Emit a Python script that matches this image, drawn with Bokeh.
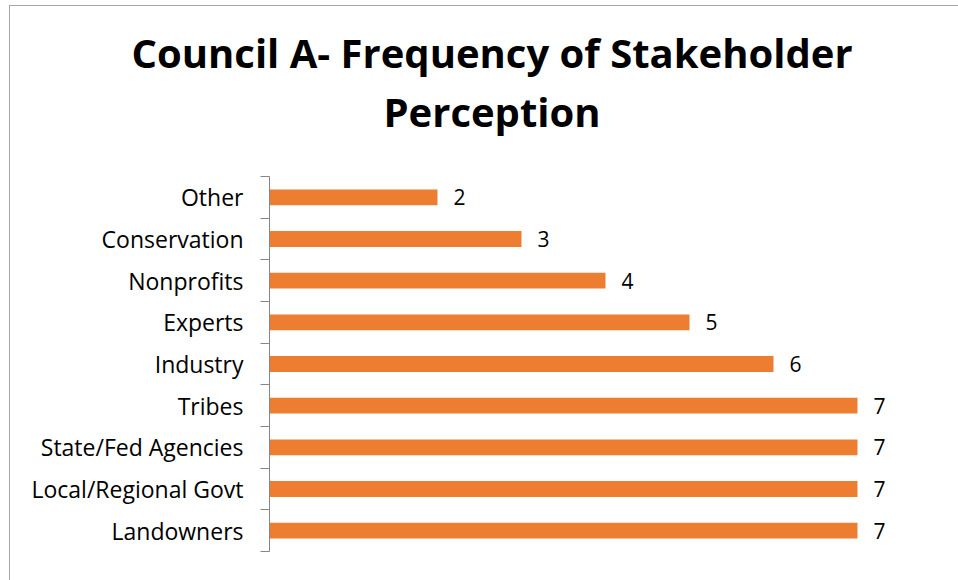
from bokeh.plotting import figure
from bokeh.models import FixedTicker, Range1d, ColumnDataSource, Title
from bokeh.core.properties import value
from bokeh.embed import file_html
from bokeh.resources import INLINE

# Data (bottom to top)
categories = ["Landowners", "Local/Regional Govt", "State/Fed Agencies", "Tribes",
              "Industry", "Experts", "Nonprofits", "Conservation", "Other"]
counts = [7, 7, 7, 7, 6, 5, 4, 3, 2]
title_lines = ["Council A- Frequency of Stakeholder", "Perception"]

FONT = "Open Sans"
BAR = "#ED7D31"
AXIS = "#868686"

n = len(categories)
centers = [i + 0.5 for i in range(n)]
src = ColumnDataSource(dict(y=centers, v=counts, lab=[str(c) for c in counts], cat=categories))

p = figure(width=949, height=575, output_backend="svg", toolbar_location=None,
           x_range=Range1d(0, 8), y_range=Range1d(0, n),
           min_border_left=259, min_border_right=18, min_border_bottom=30,
           min_border_top=170)
p.title = None

p.hbar(y="y", right="v", left=0, height=0.38, source=src, color=BAR, line_color=None)
p.text(x="v", y="y", text="lab", source=src, x_offset=16,
       text_baseline="middle", text_align="left",
       text_font=value(FONT), text_font_size="21px", text_color="black")

# Titles (closest to the plot first): (text, standoff, left offset from frame)
title_specs = [(title_lines[1], 76, 114), (title_lines[0], -72, -138)]
for line, s, off in title_specs:
    t = Title(text=line, align="left", offset=off, text_font=FONT, text_font_size="40px",
              text_font_style="bold", text_color="black", standoff=s)
    p.add_layout(t, "above")

p.xaxis.visible = False
p.xgrid.visible = False
p.ygrid.visible = False
p.outline_line_color = None

ya = p.yaxis[0]
ya.ticker = FixedTicker(ticks=centers, minor_ticks=list(range(n + 1)))
ya.major_label_overrides = {c: cat for c, cat in zip(centers, categories)}
ya.major_tick_out = 0
ya.major_tick_in = 0
ya.minor_tick_out = 9
ya.minor_tick_in = 0
ya.minor_tick_line_color = AXIS
ya.axis_line_color = AXIS
ya.major_label_text_font = FONT
ya.major_label_text_font_size = "23px"
ya.major_label_text_color = "black"
ya.major_label_standoff = 17

p.styles = {"margin-left": "9px", "margin-top": "5px",
            "border-left": "1px solid #a6a6a6", "border-top": "1px solid #a6a6a6"}

open("out.html", "w").write(file_html(p, INLINE))
